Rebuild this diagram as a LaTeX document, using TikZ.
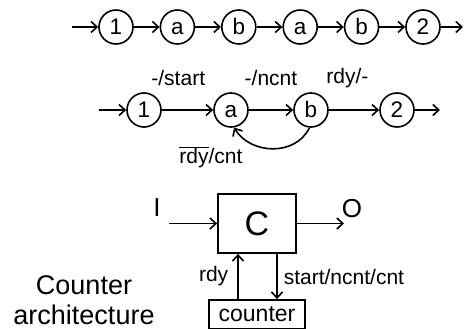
\documentclass[tikz,border=0pt]{standalone}
\usepackage{fontspec}
\setmainfont{Liberation Sans}
\usetikzlibrary{arrows.meta}
\tikzset{
  state/.style={draw,circle,line width=1.6pt,minimum size=34pt,inner sep=0pt,text height=16pt,text depth=0pt,font=\fontsize{22.5}{24}\selectfont},
  lbl/.style={font=\fontsize{21}{24}\selectfont,inner sep=2pt},
  block/.style={draw,line width=1.8pt,inner sep=0pt},
  flow/.style={line width=1.6pt,-{Straight Barb[length=6pt,width=11pt]}},
}
\begin{document}
\begin{tikzpicture}[x=1pt,y=-1pt]
\useasboundingbox (0,0) rectangle (464,329);
% unrolled run
\coordinate (s0) at (72,27);
\node[state] (s1) at (116,27) {1};
\node[state] (s2) at (177.4,27) {a};
\node[state] (s3) at (238.8,27) {b};
\node[state] (s4) at (300.2,27) {a};
\node[state] (s5) at (361.6,27) {b};
\node[state] (s6) at (423,27) {2};
\coordinate (s7) at (463,27);
\foreach \i/\j in {0/1,1/2,2/3,3/4,4/5,5/6,6/7}
  \draw[flow] (s\i) -- (s\j);
% folded machine
\coordinate (t0) at (99,110);
\node[state] (t1) at (144,110) {1};
\node[state] (ta) at (231,110) {a};
\node[state] (tb) at (311,110) {b};
\node[state] (t2) at (397,110) {2};
\coordinate (t3) at (440,110);
\draw[flow] (t0) -- (t1);
\draw[flow] (t1) -- node[lbl,pos=.32,yshift=32pt] {-/start} (ta);
\draw[flow] (ta) -- node[lbl,yshift=32pt] {-/ncnt} (tb);
\draw[flow] (tb) -- node[lbl,pos=.37,yshift=32pt] {rdy/-} (t2);
\draw[flow] (t2) -- (t3);
\draw[flow] (tb.-95) .. controls +(-14,29) and +(16,27) .. (ta.-80);
\node[lbl] (loop) at (211,157) {$\overline{\mbox{rdy}}$/cnt};
% architecture
\node[block,minimum width=78pt,minimum height=59pt,font=\fontsize{34}{40}\selectfont] (C) at (257,223.5) {C};
\node[font=\fontsize{26}{30}\selectfont] (I) at (157,208) {I};
\node[font=\fontsize{26}{30}\selectfont] (O) at (352,209) {O};
\coordinate (iin) at (169,223.5);
\coordinate (oout) at (344,223.5);
\draw[flow] (iin) -- (C);
\draw[flow] (C) -- (oout);
\node[block,minimum width=96pt,minimum height=28.5pt,font=\fontsize{23}{26}\selectfont] (ctr) at (257,314.25) {counter};
\coordinate (rdyt) at ([xshift=-19pt]C.south);
\coordinate (rdyb) at (rdyt |- ctr.north);
\coordinate (cmdt) at ([xshift=20pt]C.south);
\coordinate (cmdb) at (cmdt |- ctr.north);
\draw[flow] (rdyb) -- node[lbl,left=7pt] {rdy} (rdyt);
\draw[flow] (cmdt) -- node[lbl,right=4pt] {start/ncnt/cnt} (cmdb);
\node[align=center,font=\fontsize{27}{30}\selectfont] (arch) at (84,300) {Counter\\architecture};
\end{tikzpicture}
\end{document}
